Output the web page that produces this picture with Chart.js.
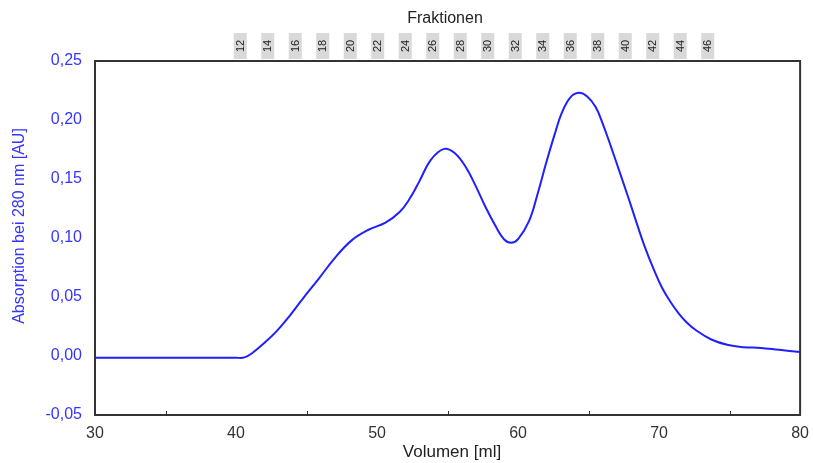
<!DOCTYPE html>
<html>
<head>
<meta charset="utf-8">
<script src="https://cdn.jsdelivr.net/npm/chart.js@4/dist/chart.umd.min.js"></script>
<style>
html,body{margin:0;padding:0;background:#fff;}
#wrap{width:813px;height:463px;position:relative;}
</style>
</head>
<body>
<div id="wrap"><canvas id="c" width="813" height="463"></canvas></div>
<script>
const volumes = [30,35,40,40.6,41.2,42.0,42.8,43.6,44.7,45.9,47.0,48.2,49.4,50.6,51.6,52.3,53.0,53.8,54.75,55.5,56.3,57.0,57.7,58.5,59.0,59.5,60.0,60.8,61.4,62.0,62.6,63.1,63.7,64.3,64.9,65.5,66.0,66.6,67.2,67.8,68.4,69.0,69.6,70.2,70.8,71.4,72.0,72.6,73.7,74.9,76.0,77.2,78.5,80.0];
const absorbance = [-0.0015,-0.0015,-0.0015,-0.0012,0.003,0.011,0.020,0.031,0.048,0.066,0.083,0.098,0.107,0.113,0.122,0.133,0.148,0.166,0.1755,0.172,0.160,0.144,0.126,0.108,0.099,0.096,0.099,0.115,0.138,0.164,0.188,0.206,0.219,0.223,0.220,0.211,0.197,0.177,0.156,0.135,0.113,0.092,0.074,0.058,0.046,0.036,0.028,0.022,0.014,0.0093,0.0075,0.0068,0.0052,0.0034];
const fractionLabels = ['12','14','16','18','20','22','24','26','28','30','32','34','36','38','40','42','44','46'];
const fractionVolumes = [40.3,42.25,44.2,46.15,48.1,50.05,52.0,53.95,55.9,57.85,59.8,61.75,63.7,65.65,67.6,69.55,71.5,73.45];
const xMinorTicks = [35,45,55,65,75];
const xTitle = 'Volumen [ml]';
const yTitle = 'Absorption bei 280 nm [AU]';
const topTitle = 'Fraktionen';

const FONT = '"Liberation Sans", Arial, sans-serif';
const BLUE = '#3535ff';

const points = volumes.map((v,i)=>({x:v,y:absorbance[i]}));

const framePlugin = {
  id:'frame',
  afterDraw(chart){
    const ctx = chart.ctx, a = chart.chartArea, xs = chart.scales.x;
    ctx.save();
    ctx.strokeStyle = '#333';
    ctx.lineWidth = 2;
    ctx.beginPath();
    ctx.moveTo(a.left, a.top); ctx.lineTo(a.right, a.top); ctx.lineTo(a.right, a.bottom);
    ctx.stroke();
    // minor ticks (inward)
    ctx.lineWidth = 1;
    ctx.beginPath();
    xMinorTicks.forEach(v=>{
      const px = Math.round(xs.getPixelForValue(v))+0.5;
      ctx.moveTo(px, a.bottom); ctx.lineTo(px, a.bottom-4);
    });
    ctx.stroke();
    // titles
    ctx.textAlign = 'center';
    ctx.textBaseline = 'middle';
    ctx.fillStyle = '#222';
    ctx.font = '16px ' + FONT;
    ctx.fillText(topTitle, 445, 19);
    ctx.font = '17px ' + FONT;
    ctx.fillText(xTitle, 452, 452);
    ctx.save();
    ctx.translate(20, 226);
    ctx.rotate(-Math.PI/2);
    ctx.fillStyle = BLUE;
    ctx.font = '16px ' + FONT;
    ctx.fillText(yTitle, 0, 0);
    ctx.restore();
    // fraction boxes
    ctx.font = '11px ' + FONT;
    fractionLabels.forEach((lab,i)=>{
      const px = xs.getPixelForValue(fractionVolumes[i]);
      ctx.fillStyle = '#d9d9d9';
      ctx.fillRect(px-6.5, 33, 13, 26);
      ctx.save();
      ctx.translate(px, 46);
      ctx.rotate(-Math.PI/2);
      ctx.fillStyle = '#222';
      ctx.fillText(lab, 0, 0.5);
      ctx.restore();
    });
    ctx.restore();
  }
};

new Chart(document.getElementById('c'), {
  type:'line',
  data:{datasets:[{
    data:points,
    borderColor:'#1f1fff',
    borderWidth:2,
    pointRadius:0,
    tension:0.4,
    fill:false
  }]},
  options:{
    responsive:false,
    animation:false,
    layout:{padding:{top:61,right:11,left:0,bottom:0}},
    plugins:{legend:{display:false},tooltip:{enabled:false}},
    scales:{
      x:{
        type:'linear', min:30, max:80,
        afterFit(s){ s.height = 48; },
        ticks:{stepSize:10, color:'#333', font:{family:FONT,size:16}, padding:4, maxRotation:0},
        grid:{display:false, drawTicks:true, tickLength:5, tickColor:'#333'},
        border:{display:true, color:'#333', width:2},
        title:{display:false}
      },
      y:{
        min:-0.05, max:0.25,
        afterFit(s){ s.width = 95; },
        ticks:{stepSize:0.05, color:BLUE, font:{family:FONT,size:16}, padding:8,
          callback:(v)=> (Math.round(v*100)/100).toFixed(2).replace('.',',')},
        grid:{display:false, drawTicks:true, tickLength:5, tickColor:'#333'},
        border:{display:true, color:'#333', width:2},
        title:{display:false}
      }
    }
  },
  plugins:[framePlugin]
});
</script>
</body>
</html>
